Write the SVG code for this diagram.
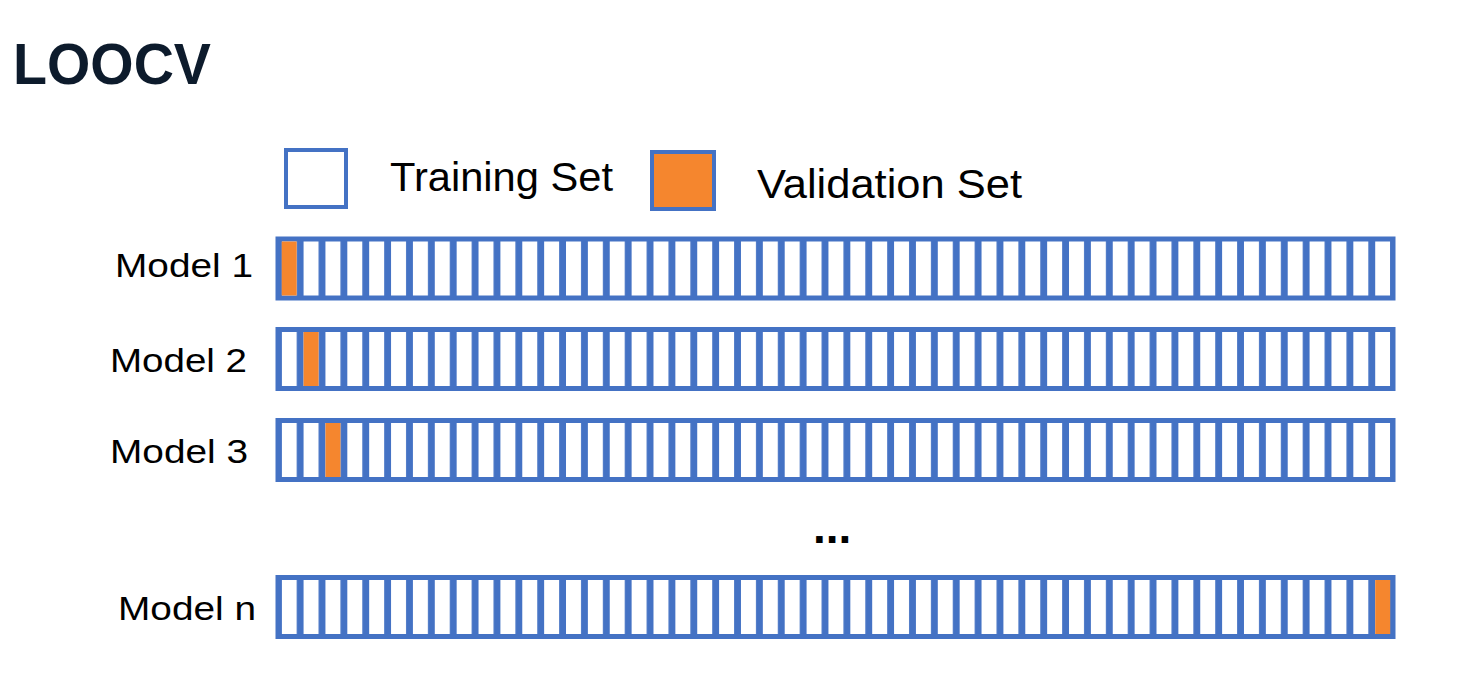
<svg xmlns="http://www.w3.org/2000/svg" width="1476" height="700" viewBox="0 0 1476 700">
  <style>
    .lbl { font-family: "Liberation Sans", Arial, sans-serif; font-size: 34px; fill: #000; }
    .leg { font-family: "Liberation Sans", Arial, sans-serif; font-size: 41px; fill: #000; }
    .title { font-family: "Liberation Sans", Arial, sans-serif; font-size: 57px; font-weight: bold; fill: #0d1b2c; }
    .frame { fill: #4472C4; }
    .cells { fill: url(#cellPat); }
    .val { fill: #F5862E; }
  </style>
  <defs>
    <pattern id="cellPat" patternUnits="userSpaceOnUse" x="281.7" y="0" width="21.87" height="700">
      <rect x="0" y="0" width="15" height="700" fill="#ffffff"/>
    </pattern>
  </defs>
  <rect x="0" y="0" width="1476" height="700" fill="#ffffff"/>

  <text class="title" x="13" y="84" textLength="198" lengthAdjust="spacingAndGlyphs">LOOCV</text>

  <g id="legend">
    <g id="legend-training">
      <rect x="286" y="150" width="60" height="57" fill="#ffffff" stroke="#4472C4" stroke-width="4"/>
      <text class="leg" x="390" y="191" textLength="223" lengthAdjust="spacingAndGlyphs">Training Set</text>
    </g>
    <g id="legend-validation">
      <rect x="652" y="152" width="62" height="57" fill="#F5862E" stroke="#4472C4" stroke-width="4"/>
      <text class="leg" x="757" y="198" textLength="265" lengthAdjust="spacingAndGlyphs">Validation Set</text>
    </g>
  </g>

  <g id="model1">
    <text class="lbl" x="115" y="277" textLength="138" lengthAdjust="spacingAndGlyphs">Model 1</text>
    <rect class="frame" x="275.5" y="236.5" width="1120" height="64"/>
    <rect class="cells" x="281.7" y="241.5" width="1108.5" height="54"/>
    <rect class="val" x="281.7" y="241.5" width="15" height="54"/>
  </g>

  <g id="model2">
    <text class="lbl" x="110" y="372" textLength="137" lengthAdjust="spacingAndGlyphs">Model 2</text>
    <rect class="frame" x="275.5" y="327" width="1120" height="64"/>
    <rect class="cells" x="281.7" y="332" width="1108.5" height="54"/>
    <rect class="val" x="303.57" y="332" width="15" height="54"/>
  </g>

  <g id="model3">
    <text class="lbl" x="110" y="463" textLength="138" lengthAdjust="spacingAndGlyphs">Model 3</text>
    <rect class="frame" x="275.5" y="418" width="1120" height="64"/>
    <rect class="cells" x="281.7" y="423" width="1108.5" height="54"/>
    <rect class="val" x="325.44" y="423" width="15" height="54"/>
  </g>

  <text x="813" y="543" font-family="Liberation Sans, Arial, sans-serif" font-size="46" font-weight="bold" fill="#000">...</text>

  <g id="modeln">
    <text class="lbl" x="118" y="620" textLength="138" lengthAdjust="spacingAndGlyphs">Model n</text>
    <rect class="frame" x="275.5" y="575" width="1120" height="64"/>
    <rect class="cells" x="281.7" y="580" width="1108.5" height="54"/>
    <rect class="val" x="1375.2" y="580" width="15" height="54"/>
  </g>

  <g id="connectors"></g>
</svg>
